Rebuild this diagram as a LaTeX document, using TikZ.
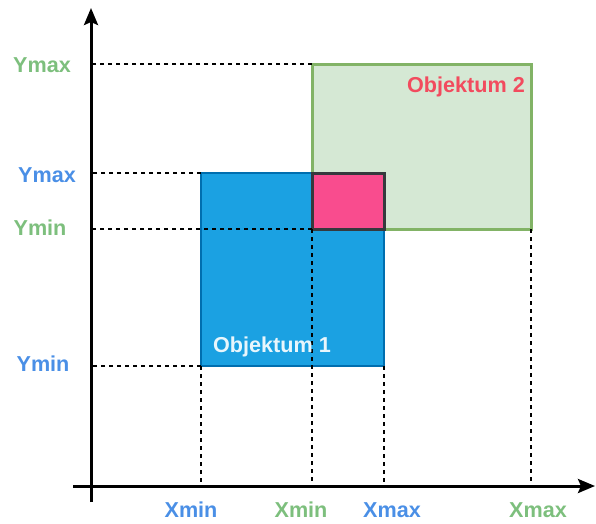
\documentclass[tikz,border=0pt]{standalone}
\usepackage{fontspec}
\setmainfont{Liberation Sans}
\usetikzlibrary{arrows.meta}
\definecolor{grn}{HTML}{82B366}
\definecolor{grnfill}{HTML}{D5E8D4}
\definecolor{grntext}{HTML}{7DBF7D}
\definecolor{blu}{HTML}{1BA1E2}
\definecolor{bluline}{HTML}{006EAF}
\definecolor{blutext}{HTML}{4A8FE6}
\definecolor{pnk}{HTML}{F94C8E}
\definecolor{pnkline}{HTML}{36393D}
\definecolor{redtext}{HTML}{F24B5E}
\begin{document}
\begin{tikzpicture}[x=1pt,y=-1pt,
  lbl/.style={font=\fontsize{21.6}{26}\selectfont\bfseries, inner sep=0pt},
  gl/.style={lbl, text=grntext},
  bl/.style={lbl, text=blutext},
  box/.style={anchor=north west, inner sep=0pt, outer sep=0pt},
  obja/.style={box, fill=blu, draw=bluline, line width=1.6pt},
  objb/.style={box, fill=grnfill, draw=grn, line width=3pt},
  cut/.style={box, fill=pnk, draw=pnkline, line width=3pt},
  guide/.style={dashed, dash pattern=on 4pt off 4pt, line width=1.3pt, black},
  axis/.style={line width=3pt, -{Stealth[length=17pt, width=14pt, inset=3pt]}}
]
\useasboundingbox (0,0) rectangle (596,523);

% origin and axis ends
\coordinate (O) at (91,486);
\coordinate (ybot) at (91,502);
\coordinate (ytop) at (91,8);
\coordinate (xleft) at (73,486);
\coordinate (xright) at (595,486);

% the two objects and their intersection
\node[objb, minimum width=219pt, minimum height=165pt] (o2) at (312,64) {};
\node[obja, minimum width=183pt, minimum height=193pt] (o1) at (201,173) {};
\node[cut, minimum width=72pt, minimum height=56pt] (ov) at (312,173) {};

% projections onto the axes
\draw[guide] (o2.north west) -- (o2.north west -| O);
\draw[guide] (o1.north west) -- (o1.north west -| O);
\draw[guide] (o2.south west) -- (o2.south west -| O);
\draw[guide] (o1.south west) -- (o1.south west -| O);
\draw[guide] (o1.south west) -- (o1.south west |- O);
\draw[guide] (o2.south west) -- (o2.south west |- O);
\draw[guide] (o1.south east) -- (o1.south east |- O);
\draw[guide] (o2.south east) -- (o2.south east |- O);

% axes
\draw[axis] (ybot) -- (ytop);
\draw[axis] (xleft) -- (xright);

% object names
\node[lbl, text=redtext] (n2) at (466,87) {Objektum 2};
\node[lbl, text=white!90!blu] (n1) at (272,347) {Objektum 1};

% axis labels
\node[gl] (ymax2) at (42,65) {Ymax};
\node[bl] (ymax1) at (47,175) {Ymax};
\node[gl] (ymin2) at (40,228) {Ymin};
\node[bl] (ymin1) at (43,364) {Ymin};
\node[bl] (xmin1) at (191,510) {Xmin};
\node[gl] (xmin2) at (301,510) {Xmin};
\node[bl] (xmax1) at (392,510) {Xmax};
\node[gl] (xmax2) at (538,510) {Xmax};
\end{tikzpicture}
\end{document}
